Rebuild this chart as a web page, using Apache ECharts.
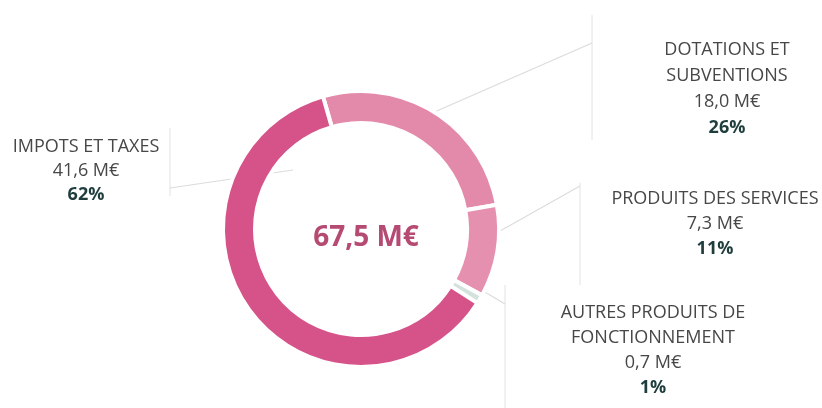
<!DOCTYPE html>
<html>
<head>
<meta charset="utf-8">
<script src="https://cdn.jsdelivr.net/npm/echarts@6/dist/echarts.min.js"></script>
<style>
    html, body { margin: 0; padding: 0; background: #ffffff; }
    #chart { width: 822px; height: 408px; }
</style>
</head>
<body>
<div id="chart"></div>
<script>
    // donnees (M€), ordre horaire depuis le haut
    var names = ['DOTATIONS ET\nSUBVENTIONS', 'PRODUITS DES SERVICES', 'AUTRES PRODUITS DE\nFONCTIONNEMENT', 'IMPOTS ET TAXES'];
    var values = [18.0, 7.3, 0.7, 41.6];
    var percents = ['26%', '11%', '1%', '62%'];
    var total = '67,5 M€';
    var colors = ['#e38aaa', '#e690b0', '#d3e2dc', '#d6538a'];

    // position des etiquettes (centre du bloc de texte) et traits de rappel
    var labelPos = [
        {x: 727, y: 89, lh: 26},
        {x: 715, y: 224, lh: 25},
        {x: 653, y: 350, lh: 25},
        {x: 86, y: 171, lh: 24}
    ];
    var leaderLines = [
        [[423, 117], [592, 43], [592, 43]],
        [[484, 240], [580, 186], [580, 186]],
        [[468, 282], [505, 304], [505, 304]],
        [[293, 170], [170, 188], [170, 188]]
    ];

    var myChart = echarts.init(document.getElementById('chart'));

    var data = values.map(function (v, i) {
        return {
            value: v,
            name: names[i],
            itemStyle: {color: colors[i]}
        };
    });

    myChart.setOption({
        animation: false,
        title: {
            text: total,
            left: 361,
            top: 233,
            textAlign: 'center',
            textVerticalAlign: 'middle',
            textStyle: {
                fontFamily: 'Open Sans',
                fontSize: 28,
                fontWeight: 'bold',
                color: '#b54a72'
            }
        },
        graphic: [
            // traits verticaux decoratifs a cote des etiquettes
            {type: 'line', shape: {x1: 170, y1: 128, x2: 170, y2: 196}, style: {stroke: '#e2e2e2', lineWidth: 1}},
            {type: 'line', shape: {x1: 592, y1: 15, x2: 592, y2: 140}, style: {stroke: '#e2e2e2', lineWidth: 1}},
            {type: 'line', shape: {x1: 580, y1: 183, x2: 580, y2: 285}, style: {stroke: '#e2e2e2', lineWidth: 1}},
            {type: 'line', shape: {x1: 505, y1: 285, x2: 505, y2: 408}, style: {stroke: '#e2e2e2', lineWidth: 1}}
        ],
        series: [
            {
                type: 'pie',
                center: [361, 229],
                radius: [106, 138],
                startAngle: 106,
                clockwise: true,
                data: data,
                itemStyle: {
                    borderColor: '#ffffff',
                    borderWidth: 4
                },
                label: {
                    show: true,
                    formatter: function (p) {
                        var v = values[p.dataIndex].toFixed(1).replace('.', ',');
                        var lines = p.name.split('\n').map(function (s) { return '{n' + p.dataIndex + '|' + s + '}'; });
                        return lines.join('\n') + '\n{n' + p.dataIndex + '|' + v + ' M€}\n{p' + p.dataIndex + '|' + percents[p.dataIndex] + '}';
                    },
                    align: 'center',
                    rich: (function () {
                        var r = {};
                        labelPos.forEach(function (lp, i) {
                            r['n' + i] = {fontFamily: 'Open Sans', fontSize: 18, color: '#474747', lineHeight: lp.lh, align: 'center'};
                            r['p' + i] = {fontFamily: 'Open Sans', fontSize: 18, fontWeight: 'bold', color: '#1f3d3d', lineHeight: lp.lh, align: 'center'};
                        });
                        return r;
                    })()
                },
                labelLayout: function (params) {
                    var pos = labelPos[params.dataIndex];
                    return {
                        x: pos.x,
                        y: pos.y,
                        align: 'center',
                        verticalAlign: 'middle',
                        hideOverlap: false,
                        labelLinePoints: leaderLines[params.dataIndex]
                    };
                },
                labelLine: {
                    show: true,
                    lineStyle: {color: '#dcdcdc', width: 1.2}
                }
            }
        ]
    });
</script>
</body>
</html>
